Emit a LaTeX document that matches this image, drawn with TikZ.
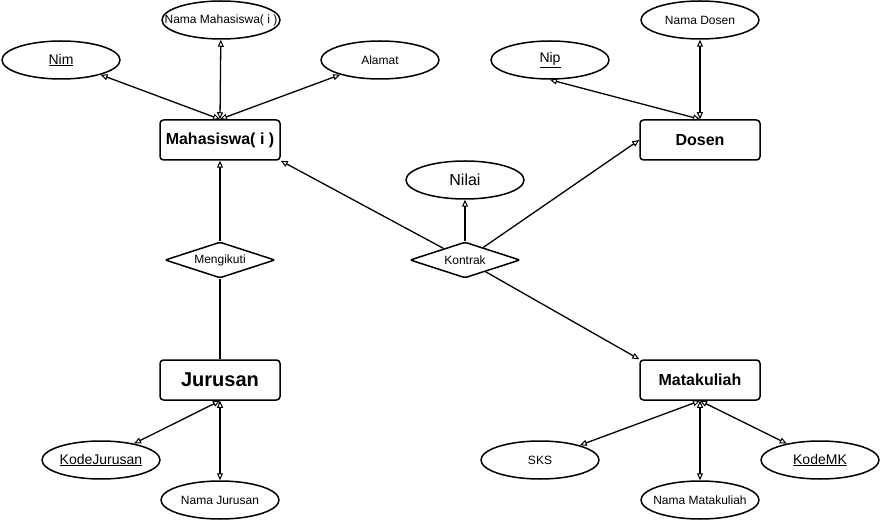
\documentclass[tikz,border=0pt]{standalone}
\usepackage{fontspec}
\setmainfont{Liberation Sans}
\usetikzlibrary{arrows.meta,shapes.geometric}

\begin{document}
\begin{tikzpicture}[x=1pt,y=-1pt,
  entity/.style={draw, line width=1.5pt, rounded corners=3.5pt,
    minimum width=120pt, minimum height=40pt, inner sep=0pt,
    font=\bfseries\fontsize{16}{19}\selectfont},
  attr/.style={draw, ellipse, line width=1.5pt, minimum width=118pt,
    minimum height=38pt, inner xsep=-15pt, inner ysep=0pt,
    font=\fontsize{12}{14}\selectfont},
  keyattr/.style={attr, font=\fontsize{14}{16}\selectfont},
  rel/.style={draw, diamond, aspect=3, line width=1.5pt, rounded corners=2pt,
    minimum width=110pt, minimum height=36pt, inner sep=0pt,
    font=\fontsize{12}{14}\selectfont},
  link/.style={line width=1.3pt},
  tipend/.tip={Triangle[open,length=7pt,width=6pt,line width=1pt]},
  oneway/.style={link, -tipend},
  twoway/.style={link, tipend-tipend}]
\useasboundingbox (0,0) rectangle (881,521);

% entities
\node[entity] (mhs) at (220,140) {Mahasiswa( i )};
\node[entity] (dos) at (700,140) {Dosen};
\node[entity, font=\bfseries\fontsize{20}{24}\selectfont] (jur) at (220,380) {Jurusan};
\node[entity] (mk) at (700,380) {Matakuliah};

% attributes
\node[keyattr] (nim) at (61,60) {\underline{Nim}};
\node[attr] (nmhs) at (221,20) {Nama Mahasiswa( i )};
\node[attr] (alm) at (380,60) {Alamat};
\node[keyattr] (nip) at (550,60) {\underline{Nip}};
\node[attr] (ndos) at (700,20) {Nama Dosen};
\node[attr, font=\fontsize{16}{19}\selectfont] (nil) at (465,180) {Nilai};
\node[keyattr] (kj) at (101,460) {\underline{KodeJurusan}};
\node[attr] (njur) at (220,500) {Nama Jurusan};
\node[attr] (sks) at (540,460) {SKS};
\node[attr] (nmk) at (700,500) {Nama Matakuliah};
\node[keyattr] (kmk) at (820,460) {\underline{KodeMK}};

% relationships
\node[rel] (ikut) at (220,260) {Mengikuti};
\node[rel] (kon) at (465,260) {Kontrak};

% attribute links
\draw[twoway] (mhs.north) -- (nim);
\draw[twoway] (mhs.north) -- (nmhs);
\draw[twoway] (mhs.north) -- (alm);
\draw[twoway] (dos.north) -- (nip.south);
\draw[twoway] (dos.north) -- (ndos);
\draw[twoway] (jur.south) -- (kj);
\draw[twoway] (jur.south) -- (njur);
\draw[twoway] (mk.south) -- (sks);
\draw[twoway] (mk.south) -- (nmk);
\draw[twoway] (mk.south) -- (kmk);

% relationship links
\draw[oneway] (ikut) -- (mhs);
\draw[link] (ikut) -- (jur);
\draw[oneway] (kon) -- (mhs.south east);
\draw[oneway] (kon) -- (nil);
\draw[oneway] (kon) -- (dos.west);
\draw[oneway] (kon) -- (mk.north west);
\end{tikzpicture}
\end{document}
